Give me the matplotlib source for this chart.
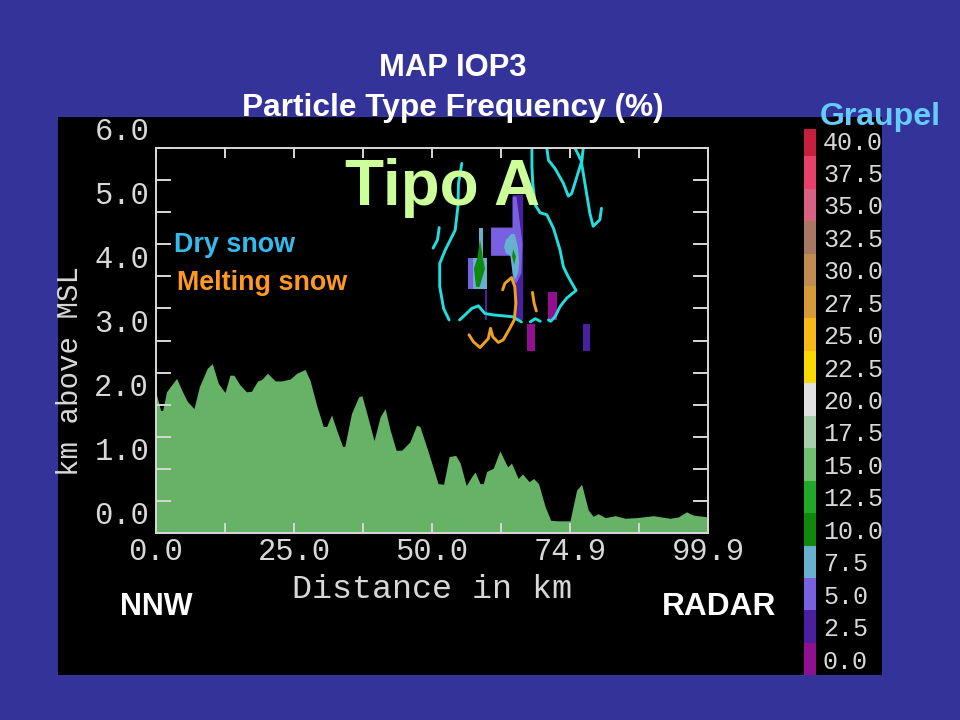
import matplotlib
matplotlib.use("Agg")
import matplotlib.pyplot as plt
from matplotlib.patches import Rectangle
from matplotlib.transforms import ScaledTranslation

# terrain profile, km along section / km MSL
terrain_x = [0, 0.85, 1.2, 1.9, 2.66, 3.74, 4.65, 5.68, 6.88, 7.85, 9.3, 10.2, 11.3, 12.5, 13.4, 14.1, 15.2, 16.4,
             17.3, 18.4, 19.1, 20.2, 21.6, 22.8, 24.3, 25.5, 27.0, 27.9, 29.1, 30.3, 30.9, 31.8, 32.7, 33.8, 34.2,
             35.4, 36.7, 37.3, 38.2, 39.5, 40.6, 41.5, 42.4, 43.5, 44.5, 46.0, 47.2, 47.8, 49.3, 51.1, 52.1, 53.1,
             54.3, 55.1, 56.2, 57.2, 57.8, 58.7, 59.3, 59.9, 61.1, 62.3, 63.7, 64.4, 65.6, 66.4, 67.6, 68.4, 69.3,
             70.5, 71.5, 72.6, 75.0, 76.2, 77.1, 78.3, 79.2, 80.1, 81.4, 83.2, 85.0, 87.1, 90.1, 93.1, 94.6, 96.1,
             97.3, 100]
terrain_z = [2.18, 1.91, 1.91, 2.20, 2.29, 2.41, 2.23, 2.05, 1.94, 2.28, 2.57, 2.64, 2.33, 2.19, 2.46, 2.46, 2.31,
             2.20, 2.21, 2.37, 2.39, 2.49, 2.37, 2.37, 2.40, 2.49, 2.55, 2.38, 1.99, 1.66, 1.66, 1.84, 1.61, 1.35,
             1.35, 1.86, 2.12, 2.14, 1.86, 1.44, 1.81, 1.94, 1.61, 1.29, 1.29, 1.42, 1.68, 1.66, 1.27, 0.77, 0.76,
             1.19, 1.21, 1.09, 0.74, 0.88, 0.95, 0.77, 0.77, 0.96, 1.01, 1.28, 1.03, 1.09, 0.85, 0.92, 0.80, 0.85,
             0.77, 0.41, 0.20, 0.19, 0.19, 0.67, 0.76, 0.36, 0.26, 0.30, 0.24, 0.27, 0.23, 0.24, 0.27, 0.23, 0.25,
             0.33, 0.28, 0.25]

# graupel frequency regions (x list, z list)
dark_x = [64.6, 66.5, 66.5, 64.9, 64.9, 64.6]
dark_z = [5.27, 5.27, 3.32, 3.32, 3.94, 4.32]
dark2_x = [59.6, 60.0, 60.0, 59.6]
dark2_z = [3.79, 3.79, 3.32, 3.32]
light_x = [64.6, 65.3, 66.4, 66.2, 65.3, 64.6, 64.6, 60.7, 60.7, 64.6]
light_z = [5.24, 5.24, 4.51, 4.05, 3.89, 3.94, 4.32, 4.32, 4.76, 4.76]
light2_x = [56.6, 58.0, 58.0, 56.6]
light2_z = [4.28, 4.28, 3.80, 3.80]
blue_x = [64.4, 65.0, 65.6, 65.8, 65.6, 65.0, 64.6, 64.2, 63.4, 63.05, 63.4]
blue_z = [4.66, 4.66, 4.44, 4.20, 4.05, 3.94, 4.05, 4.32, 4.36, 4.46, 4.57]
blue2_x = [57.4, 60.0, 60.0, 57.4]
blue2_z = [4.28, 4.28, 3.80, 3.80]
blue3_x = [58.6, 59.2, 59.2, 58.6]
blue3_z = [4.76, 4.76, 4.28, 4.28]
green_x = [64.7, 65.2, 64.9, 64.5]
green_z = [4.42, 4.31, 4.18, 4.31]
green2_x = [58.7, 59.1, 59.2, 59.6, 58.6, 57.97, 57.6, 58.2]
green2_z = [4.57, 4.36, 4.28, 4.12, 3.83, 3.84, 4.12, 4.28]
magenta_bars = [(71.1, 72.6, 3.32, 3.75), (67.2, 68.7, 2.83, 3.26)]
indigo_bars = [(77.3, 78.7, 2.83, 3.26)]

# contours
cyan_lines = [
    ([68.1, 68.1, 68.25, 68.7, 69.6, 70.8, 72.0, 73.2, 73.8, 74.7, 76.1, 74.4, 73.2, 72.3, 71.5, 71.1],
     [6.0, 5.71, 5.45, 5.11, 4.99, 4.96, 4.75, 4.41, 4.15, 3.99, 3.78, 3.66, 3.53, 3.37, 3.30, 3.32]),
    ([69.6, 68.7, 67.8], [3.30, 3.34, 3.29]),
    ([66.2, 64.6, 61.0, 59.6, 58.4, 57.2, 56.0, 55.0],
     [3.29, 3.37, 3.40, 3.42, 3.54, 3.50, 3.40, 3.32]),
    ([53.1, 52.1, 51.4, 51.4, 52.4, 54.2, 54.7, 54.8, 55.4],
     [3.32, 3.50, 3.84, 4.20, 4.41, 4.72, 5.09, 5.45, 5.76]),
    ([51.3, 51.0, 50.2], [4.76, 4.57, 4.44]),
    ([70.8, 71.1, 72.3, 73.8, 74.7, 75.3, 77.1, 75.9],
     [6.0, 5.81, 5.68, 5.45, 5.25, 5.29, 5.79, 6.0]),
    ([77.4, 77.1, 77.7, 78.6, 79.2, 80.4, 80.7],
     [6.0, 5.76, 5.45, 4.98, 4.78, 4.88, 5.06]),
]
orange_lines = [
    ([62.8, 63.2, 64.4, 65.0, 65.2, 64.9, 64.1, 62.9, 62.0, 61.0, 60.6, 60.2, 58.7, 57.5, 56.7],
     [3.79, 3.89, 3.98, 3.84, 3.58, 3.32, 3.19, 3.01, 2.97, 3.06, 3.19, 3.03, 2.89, 2.98, 3.09]),
    ([68.2, 68.5, 68.9], [3.75, 3.58, 3.46]),
]

# colour scale
scale_levels = [40.0, 37.5, 35.0, 32.5, 30.0, 27.5, 25.0, 22.5, 20.0, 17.5, 15.0, 12.5, 10.0, 7.5, 5.0, 2.5, 0.0]
scale_colors = ["#c8203c", "#e8406a", "#d86080", "#a87860", "#c08c50", "#d89a38", "#f8b818", "#f8d800", "#e0e0e0",
                "#a8d0a8", "#70c070", "#20a828", "#108810", "#68b0d0", "#7860e0", "#4820a0", "#901090"]

x_ticks = [0, 25, 50, 75, 100]
x_labels = ["0.0", "25.0", "50.0", "74.9", "99.9"]
y_ticks = [0, 0.5, 1, 1.5, 2, 2.5, 3, 3.5, 4, 4.5, 5, 5.5, 6]
y_labels = ["0.0", "", "1.0", "", "2.0", "", "3.0", "", "4.0", "", "5.0", "", "6.0"]

BG = "#333399"
GREY = "#d8d8d8"
MONO = "Liberation Mono"
SANS = "Liberation Sans"
W, H = 960, 720

fig = plt.figure(figsize=(9.6, 7.2), dpi=100, facecolor=BG)
fig.patches.append(Rectangle((58 / W, 1 - 675 / H), 824 / W, 558 / H, transform=fig.transFigure,
                             facecolor="black", edgecolor="none", zorder=-1))

ax = fig.add_axes([156 / W, 1 - 533 / H, 552 / W, 385 / H], facecolor="none")
ax.fill_between(terrain_x, 0, terrain_z, color="#66b266", lw=0)

ax.fill(dark_x, dark_z, color="#4820a0", lw=0)
ax.fill(dark2_x, dark2_z, color="#4820a0", lw=0)
ax.fill(light_x, light_z, color="#7860e0", lw=0)
ax.fill(light2_x, light2_z, color="#7860e0", lw=0)
ax.fill(blue2_x, blue2_z, color="#68b0d0", lw=0)
ax.fill(blue3_x, blue3_z, color="#68b0d0", lw=0)
ax.fill(blue_x, blue_z, color="#68b0d0", lw=0)
ax.fill(green_x, green_z, color="#108810", lw=0)
ax.fill(green2_x, green2_z, color="#108810", lw=0)
for x0, x1, z0, z1 in magenta_bars:
    ax.fill([x0, x1, x1, x0], [z0, z0, z1, z1], color="#901090", lw=0)
for x0, x1, z0, z1 in indigo_bars:
    ax.fill([x0, x1, x1, x0], [z0, z0, z1, z1], color="#4820a0", lw=0)

for xs, zs in cyan_lines:
    ax.plot(xs, zs, color="#22dddd", lw=2.1, solid_joinstyle="round", solid_capstyle="round")
for xs, zs in orange_lines:
    ax.plot(xs, zs, color="#f0a020", lw=2.1, solid_joinstyle="round", solid_capstyle="round")

ax.set_xlim(0, 100)
ax.set_ylim(0, 6)
ax.set_xticks(x_ticks)
ax.set_xticks([12.5, 37.5, 62.5, 87.5], minor=True)
ax.set_xticklabels(x_labels, family=MONO, fontsize=22, color=GREY)
ax.set_yticks(y_ticks)
ax.set_yticklabels(y_labels, family=MONO, fontsize=22, color=GREY)
ax.tick_params(axis="x", which="both", direction="in", length=7, width=1.4, color=GREY, top=True, pad=3)
ax.tick_params(axis="y", direction="in", length=11, width=1.4, color=GREY, right=True, pad=5)
for spine in ax.spines.values():
    spine.set_color(GREY)
    spine.set_linewidth(1.4)

# the old plot package prints y labels well above their ticks
up = ScaledTranslation(0, 20 / 100, fig.dpi_scale_trans)
for lab in ax.get_yticklabels():
    lab.set_transform(lab.get_transform() + up)

fig.text(70 / W, 1 - 371 / H, "km above MSL", family=MONO, fontsize=21, color=GREY,
         rotation=90, ha="center", va="center")
fig.text(432 / W, 1 - 589 / H, "Distance in km", family=MONO, fontsize=24, color=GREY, ha="center", va="center")

# colour bar
cax = fig.add_axes([804 / W, 1 - 675 / H, 12 / W, 546 / H], facecolor="black")
cax.barh(scale_levels, [1] * len(scale_levels), height=2.5, color=scale_colors, lw=0)
cax.set_xlim(0, 1)
cax.set_ylim(-1.23, 40.85)
cax.set_xticks([])
cax.set_yticks(scale_levels)
cax.set_yticklabels(["%.1f" % v for v in scale_levels], family=MONO, fontsize=18, color=GREY)
cax.yaxis.tick_right()
cax.tick_params(axis="y", length=0, pad=5)
for spine in cax.spines.values():
    spine.set_visible(False)

# slide annotations
def note(px, py, s, size, color="white"):
    fig.text(px / W, 1 - py / H, s, family=SANS, fontweight="bold", fontsize=size, color=color,
             ha="center", va="center")

note(453, 68, "MAP IOP3", 22.3)
note(453, 108, "Particle Type Frequency (%)", 22.8)
note(443, 188, "Tipo A", 46, "#ccff99")
note(880, 117, "Graupel", 23, "#66ccff")
note(234, 245, "Dry snow", 19.4, "#33bbee")
note(262, 283, "Melting snow", 19.4, "#ff9922")
note(156, 607, "NNW", 22)
note(719, 607, "RADAR", 22.8)

fig.savefig("out.png", dpi=100, facecolor=BG)
